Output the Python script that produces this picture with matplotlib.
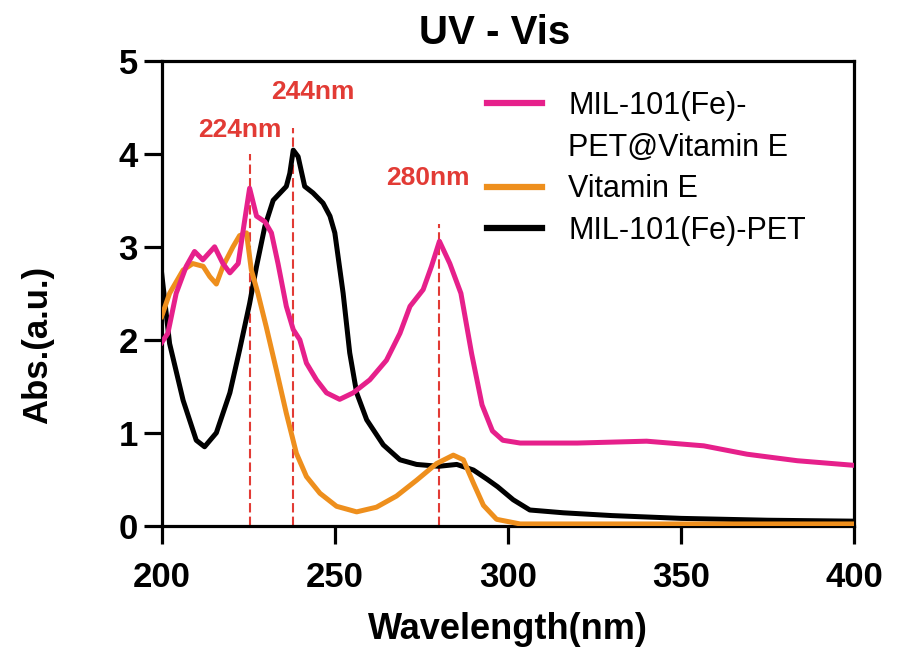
import numpy as np
import matplotlib.pyplot as plt
from matplotlib.lines import Line2D

# Spectra
wl_pet = [200, 202.3, 206.2, 210, 212.4, 215.8, 219.7, 222.5, 225.4, 227.4, 229.8, 232.2,
          236, 237, 238, 239.4, 241.3, 243.7, 246.6, 248.6, 250, 252.4, 254.3, 256.3,
          259.2, 264, 268.8, 273.6, 280, 285.2, 290, 294, 297, 301.5, 306.3, 316, 330,
          350, 375, 400]
abs_pet = [2.72, 1.96, 1.35, 0.92, 0.85, 1.0, 1.43, 1.89, 2.39, 2.79, 3.22, 3.5,
           3.65, 3.79, 4.04, 3.97, 3.65, 3.58, 3.47, 3.33, 3.15, 2.5, 1.86, 1.43,
           1.14, 0.87, 0.71, 0.66, 0.64, 0.66, 0.6, 0.5, 0.42, 0.28, 0.17, 0.14, 0.11,
           0.08, 0.06, 0.05]

wl_comp = [200, 201.8, 204.2, 207.1, 209.5, 211.9, 215.3, 217.7, 219.7, 222.1, 224,
           225.4, 227.4, 229.8, 231.7, 233.6, 236, 238, 239.9, 241.8, 244.7, 247.6,
           251.4, 255.3, 260.1, 264.9, 268.8, 271.7, 275.5, 277.9, 280.2, 283.2, 286.4,
           289.5, 292.5, 295.5, 298.5, 303.5, 320, 340, 356.5, 369, 383.5, 400]
abs_comp = [1.97, 2.07, 2.5, 2.79, 2.95, 2.86, 3.0, 2.82, 2.72, 2.82, 3.29,
            3.63, 3.33, 3.27, 3.15, 2.82, 2.36, 2.11, 2.0, 1.75, 1.57, 1.43,
            1.36, 1.43, 1.57, 1.78, 2.07, 2.36, 2.54, 2.79, 3.06, 2.82, 2.5,
            1.85, 1.3, 1.02, 0.92, 0.89, 0.89, 0.91, 0.86, 0.77, 0.7, 0.65]

wl_vite = [200, 202.3, 206.2, 209, 212, 213.9, 215.8, 217.7, 220.6, 222.5, 224.5,
           225.9, 227.8, 230.2, 233.1, 236, 238.9, 241.8, 245.7, 250.5, 256.3, 262,
           267.8, 273.6, 279.4, 284.2, 287.1, 290, 292.9, 296.7, 303.5, 350, 400]
abs_vite = [2.25, 2.5, 2.75, 2.82, 2.79, 2.68, 2.6, 2.79, 3.0, 3.12, 3.15,
            2.75, 2.5, 2.14, 1.68, 1.21, 0.78, 0.53, 0.35, 0.21, 0.15, 0.2,
            0.32, 0.49, 0.67, 0.76, 0.71, 0.46, 0.22, 0.07, 0.02, 0.02, 0.02]

peak_pos = [225.5, 238, 280]
peak_top = [4.0, 4.28, 3.24]
peak_names = ['224nm', '244nm', '280nm']
peak_text_x = [222.5, 243.6, 276.9]
peak_text_y = [4.26, 4.66, 3.74]

pink = '#E6208B'
orange = '#EE8F1D'
red = '#E23B35'

plt.rcParams['font.family'] = ['Liberation Sans', 'DejaVu Sans']

fig = plt.figure(figsize=(9.08, 6.54), dpi=100)
ax = fig.add_axes([0.178, 0.196, 0.763, 0.711])

ax.vlines(peak_pos, 0, peak_top, colors=red, linestyles=(0, (4.5, 2)), lw=1.5, zorder=1)
for x, y, s in zip(peak_text_x, peak_text_y, peak_names):
    ax.text(x, y, s, color=red, fontsize=19, fontweight='bold', ha='center', va='center')

ax.plot(wl_pet, abs_pet, color='black', lw=3.6, zorder=3)
ax.plot(wl_vite, abs_vite, color=orange, lw=3.6, zorder=4)
ax.plot(wl_comp, abs_comp, color=pink, lw=3.6, zorder=5)

ax.set_xlim(200, 400)
ax.set_ylim(0, 5)
ax.set_xticks([200, 250, 300, 350, 400])
ax.set_yticks([0, 1, 2, 3, 4, 5])
ax.tick_params(direction='out', length=13, width=2.3, labelsize=25)
ax.tick_params(axis='x', pad=12)
ax.tick_params(axis='y', pad=4)
for lab in ax.get_xticklabels() + ax.get_yticklabels():
    lab.set_fontweight('bold')
for sp in ax.spines.values():
    sp.set_linewidth(2.3)

ax.set_xlabel('Wavelength(nm)', fontsize=26, fontweight='bold', labelpad=13)
ax.set_ylabel('Abs.(a.u.)', fontsize=25, fontweight='bold')
ax.yaxis.set_label_coords(-0.155, 0.39)
ax.set_title('UV - Vis', fontsize=29, fontweight='bold', pad=12, x=0.481)

handles = [Line2D([], [], color=pink, lw=4.5),
           Line2D([], [], linestyle='none'),
           Line2D([], [], color=orange, lw=4.5),
           Line2D([], [], color='black', lw=4.5)]
labels = ['MIL-101(Fe)-', 'PET@Vitamin E', 'Vitamin E', 'MIL-101(Fe)-PET']
ax.legend(handles, labels, loc='upper left', bbox_to_anchor=(0.47, 0.935),
          frameon=False, fontsize=22, handlelength=1.8, handletextpad=0.85,
          labelspacing=0.38, borderaxespad=0, borderpad=0)

fig.savefig('out.png', dpi=100)
